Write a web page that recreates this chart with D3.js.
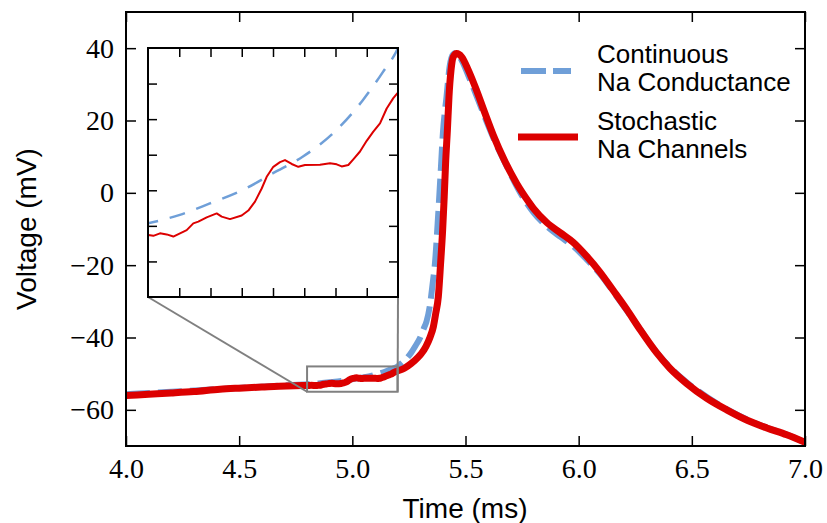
<!DOCTYPE html>
<html><head><meta charset="utf-8">
<script src="https://cdn.jsdelivr.net/npm/d3@7"></script>
<style>body{margin:0;background:#fff}</style></head>
<body>
<svg id="c" width="827" height="523"></svg>
<script>
// ---- data ----
const xDomain = [4.0, 7.0];
const yDomain = [-70, 50];
const xTicks = [4.0, 4.5, 5.0, 5.5, 6.0, 6.5, 7.0];
const yTicks = [-60, -40, -20, 0, 20, 40];
const insetXDomain = [4.8, 5.2];
const insetYDomain = [-55, -48];
const insetXTicks = [4.85, 4.9, 4.95, 5.0, 5.05, 5.1, 5.15];
const insetYTicks = [-54, -53, -52, -51, -50, -49];
const seriesNames = ["Continuous\nNa Conductance", "Stochastic\nNa Channels"];

const contT = [4.0, 4.2, 4.4, 4.6, 4.7, 4.8, 4.851, 4.899, 4.952, 5.0, 5.048, 5.096, 5.144, 5.176, 5.2,
  5.22, 5.24, 5.26, 5.28, 5.30, 5.315, 5.328, 5.343, 5.355, 5.365, 5.377, 5.39, 5.40, 5.416, 5.43, 5.445, 5.458,
  5.48, 5.51, 5.55, 5.59, 5.63, 5.68, 5.74, 5.80, 5.86, 5.92, 5.98, 6.035, 6.094, 6.15, 6.21, 6.27, 6.34, 6.40,
  6.48, 6.57, 6.654, 6.742, 6.83, 6.92, 7.0];
const contV = [-55.7, -55.0, -54.3, -53.6, -53.25, -52.93, -52.69, -52.37, -51.99, -51.52, -51.05, -50.40, -49.46, -48.67, -48.0,
  -47.0, -45.8, -44.2, -42.2, -40.0, -37.6, -35.5, -31.0, -25.0, -19.5, -8.4, 5.4, 16.4, 26.5, 35.0, 38.3, 38.7,
  37.0, 32.8, 26.6, 20.2, 14.2, 7.6, 0.2, -5.4, -9.3, -12.2, -15.0, -18.4, -22.4, -27.1, -32.3, -37.6, -43.8, -48.0,
  -52.5, -56.6, -59.8, -62.6, -64.9, -66.8, -69.0];

const stochT = [4.0, 4.1, 4.2, 4.3, 4.415, 4.5, 4.6, 4.71, 4.78,
  4.8005, 4.8085, 4.8192, 4.8299, 4.8405, 4.8512, 4.8619, 4.8725, 4.8805, 4.8939, 4.9099, 4.9179, 4.9312, 4.9499,
  4.9605, 4.9712, 4.9819, 4.9899, 5.0005, 5.0112, 5.0192, 5.0299, 5.0405, 5.0512, 5.0752, 5.0912, 5.1019, 5.1099,
  5.1205, 5.1285, 5.1392, 5.1499, 5.1605, 5.1712, 5.1819, 5.1925, 5.1995,
  5.23, 5.26, 5.29, 5.306, 5.325, 5.343, 5.358, 5.368, 5.38, 5.39, 5.399, 5.406, 5.412, 5.42, 5.427, 5.436, 5.446,
  5.461, 5.483, 5.512, 5.549, 5.586, 5.623, 5.675, 5.726, 5.778, 5.80, 5.859, 5.918, 5.976, 6.035, 6.094, 6.153,
  6.212, 6.271, 6.344, 6.403, 6.477, 6.566, 6.654, 6.742, 6.831, 6.919, 7.0];
const stochV = [-56.05, -55.7, -55.35, -54.95, -54.3, -54.0, -53.7, -53.4, -53.3,
  -53.26, -53.28, -53.21, -53.24, -53.30, -53.21, -53.12, -52.93, -52.88, -52.76, -52.65, -52.74, -52.81, -52.71,
  -52.57, -52.32, -51.95, -51.62, -51.34, -51.21, -51.15, -51.26, -51.34, -51.29, -51.28, -51.24, -51.27, -51.33,
  -51.29, -51.13, -50.91, -50.61, -50.35, -50.12, -49.70, -49.41, -49.26,
  -48.5, -47.2, -45.5, -44.35, -42.5, -40.0, -37.0, -33.5, -28.7, -19.5, -10.3, -1.1, 8.15, 17.35, 26.55, 33.9, 37.6,
  38.5, 37.6, 34.0, 28.3, 22.0, 15.9, 8.6, 2.6, -2.4, -4.3, -8.2, -11.0, -13.7, -17.5, -21.9, -27.0,
  -32.2, -37.8, -44.2, -48.5, -52.7, -56.8, -60.0, -62.8, -65.0, -66.9, -69.0];

// ---- styles ----
const BLUE = "#6f9fd8", RED = "#dc0000", GRAY = "#808080";
const contData = contT.map((t, i) => [t, contV[i]]);
const stochData = stochT.map((t, i) => [t, stochV[i]]);

const svg = d3.select("#c");
const M = {left: 126, top: 12, right: 805, bottom: 446};
const x = d3.scaleLinear().domain(xDomain).range([M.left, M.right]);
const y = d3.scaleLinear().domain(yDomain).range([M.bottom, M.top]);

svg.append("defs").append("clipPath").attr("id", "mainClip")
  .append("rect").attr("x", M.left).attr("y", M.top).attr("width", M.right - M.left).attr("height", M.bottom - M.top);

const lineMain = d3.line().x(d => x(d[0])).y(d => y(d[1])).curve(d3.curveMonotoneX);
const gMain = svg.append("g").attr("clip-path", "url(#mainClip)");
gMain.append("path").datum(contData).attr("d", lineMain)
  .attr("fill", "none").attr("stroke", BLUE).attr("stroke-width", 6).attr("stroke-dasharray", "24,8");
gMain.append("path").datum(stochData).attr("d", lineMain)
  .attr("fill", "none").attr("stroke", RED).attr("stroke-width", 7).attr("stroke-linejoin", "round");

// axes
const serif = "'Liberation Serif', 'Times New Roman', serif";
const sans = "'Liberation Sans', Arial, Helvetica, sans-serif";
function styleAxis(g) {
  g.select(".domain").remove();
  g.selectAll(".tick line").attr("stroke", "#000").attr("stroke-width", 1.5);
  g.selectAll(".tick text").attr("font-family", serif).attr("font-size", 28).attr("fill", "#000");
}
svg.append("g").attr("transform", `translate(0,${M.bottom})`)
  .call(d3.axisBottom(x).tickValues(xTicks).tickFormat(d3.format(".1f")).tickSizeInner(-10).tickSizeOuter(0).tickPadding(12))
  .call(styleAxis);
svg.append("g").attr("transform", `translate(0,${M.top})`)
  .call(d3.axisTop(x).tickValues(xTicks).tickFormat("").tickSizeInner(-10).tickSizeOuter(0))
  .call(styleAxis);
svg.append("g").attr("transform", `translate(${M.left},0)`)
  .call(d3.axisLeft(y).tickValues(yTicks).tickFormat(d3.format("d")).tickSizeInner(-10).tickSizeOuter(0).tickPadding(12))
  .call(styleAxis);
svg.append("g").attr("transform", `translate(${M.right},0)`)
  .call(d3.axisRight(y).tickValues(yTicks).tickFormat("").tickSizeInner(-10).tickSizeOuter(0))
  .call(styleAxis);
svg.append("rect").attr("x", M.left).attr("y", M.top).attr("width", M.right - M.left).attr("height", M.bottom - M.top)
  .attr("fill", "none").attr("stroke", "#000").attr("stroke-width", 2);

// axis labels
svg.append("text").attr("x", 465).attr("y", 518).attr("text-anchor", "middle")
  .attr("font-family", sans).attr("font-size", 28).text("Time (ms)");
svg.append("text").attr("transform", `translate(36,${(M.top + M.bottom) / 2}) rotate(-90)`).attr("text-anchor", "middle")
  .attr("font-family", sans).attr("font-size", 28).text("Voltage (mV)");

// legend
const legend = svg.append("g");
legend.append("line").attr("x1", 521).attr("x2", 571).attr("y1", 71).attr("y2", 71)
  .attr("stroke", BLUE).attr("stroke-width", 6).attr("stroke-dasharray", "25,7");
legend.append("line").attr("x1", 518).attr("x2", 578).attr("y1", 137).attr("y2", 137)
  .attr("stroke", RED).attr("stroke-width", 7);
const legY = [63, 130];
seriesNames.forEach((name, i) => {
  const t = legend.append("text").attr("font-family", sans).attr("font-size", 26).attr("x", 597).attr("y", legY[i]);
  name.split("\n").forEach((ln, j) => {
    t.append("tspan").attr("x", 597).attr("dy", j === 0 ? 0 : 28).text(ln);
  });
});

// inset
const I = {left: 148, top: 48, right: 398, bottom: 297};
const xi = d3.scaleLinear().domain(insetXDomain).range([I.left, I.right]);
const yi = d3.scaleLinear().domain(insetYDomain).range([I.bottom, I.top]);

// zoom rectangle + connectors
const rx0 = x(insetXDomain[0]), rx1 = x(insetXDomain[1]);
const ry0 = y(insetYDomain[1]), ry1 = y(insetYDomain[0]);
svg.append("rect").attr("x", rx0).attr("y", ry0).attr("width", rx1 - rx0).attr("height", ry1 - ry0)
  .attr("fill", "none").attr("stroke", GRAY).attr("stroke-width", 2);
svg.append("line").attr("x1", I.left).attr("y1", I.bottom).attr("x2", rx0).attr("y2", ry1)
  .attr("stroke", GRAY).attr("stroke-width", 2);
svg.append("line").attr("x1", I.right).attr("y1", I.bottom).attr("x2", rx1).attr("y2", ry1)
  .attr("stroke", GRAY).attr("stroke-width", 2);

svg.select("defs").append("clipPath").attr("id", "insetClip")
  .append("rect").attr("x", I.left).attr("y", I.top).attr("width", I.right - I.left).attr("height", I.bottom - I.top);
svg.append("rect").attr("x", I.left).attr("y", I.top).attr("width", I.right - I.left).attr("height", I.bottom - I.top)
  .attr("fill", "#fff");
const lineInsetC = d3.line().x(d => xi(d[0])).y(d => yi(d[1])).curve(d3.curveMonotoneX);
const lineInsetS = d3.line().x(d => xi(d[0])).y(d => yi(d[1]));
const gIn = svg.append("g").attr("clip-path", "url(#insetClip)");
gIn.append("path").datum(contData).attr("d", lineInsetC)
  .attr("fill", "none").attr("stroke", BLUE).attr("stroke-width", 2.5).attr("stroke-dasharray", "16,12");
gIn.append("path").datum(stochData).attr("d", lineInsetS)
  .attr("fill", "none").attr("stroke", RED).attr("stroke-width", 2).attr("stroke-linejoin", "round");

function styleInset(g) {
  g.select(".domain").remove();
  g.selectAll(".tick line").attr("stroke", "#000").attr("stroke-width", 1.5);
}
svg.append("g").attr("transform", `translate(0,${I.bottom})`)
  .call(d3.axisBottom(xi).tickValues(insetXTicks).tickFormat("").tickSizeInner(-9).tickSizeOuter(0)).call(styleInset);
svg.append("g").attr("transform", `translate(0,${I.top})`)
  .call(d3.axisTop(xi).tickValues(insetXTicks).tickFormat("").tickSizeInner(-9).tickSizeOuter(0)).call(styleInset);
svg.append("g").attr("transform", `translate(${I.left},0)`)
  .call(d3.axisLeft(yi).tickValues(insetYTicks).tickFormat("").tickSizeInner(-9).tickSizeOuter(0)).call(styleInset);
svg.append("g").attr("transform", `translate(${I.right},0)`)
  .call(d3.axisRight(yi).tickValues(insetYTicks).tickFormat("").tickSizeInner(-9).tickSizeOuter(0)).call(styleInset);
svg.append("rect").attr("x", I.left).attr("y", I.top).attr("width", I.right - I.left).attr("height", I.bottom - I.top)
  .attr("fill", "none").attr("stroke", "#000").attr("stroke-width", 2);
</script>
</body></html>
